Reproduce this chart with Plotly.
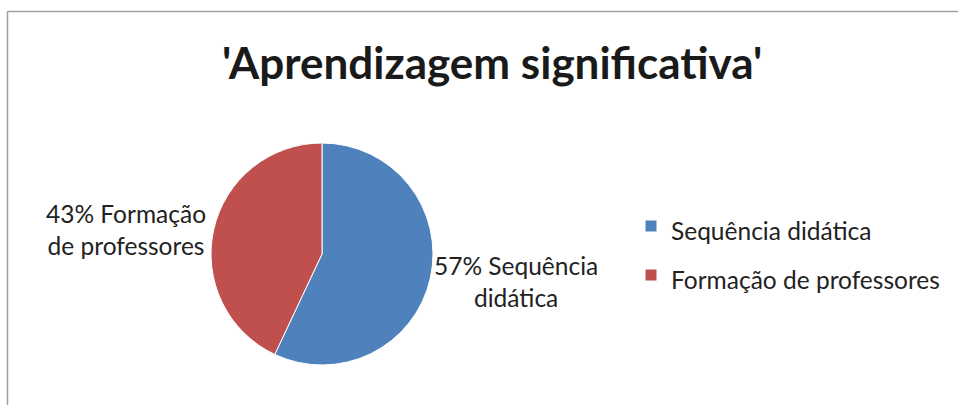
import plotly.graph_objects as go

categories = ["Sequência didática", "Formação de professores"]
values = [57, 43]
colors = ["#4F81BD", "#C0504D"]
title_text = "'Aprendizagem significativa'"

W, H = 958, 405
FONT = "Lato, Open Sans, sans-serif"

cx, cy, r = 322, 254, 111
LEG_TXT = 24.5

fig = go.Figure()
fig.add_trace(go.Pie(
    labels=[f"<span style='font-size:{LEG_TXT}px'>{c}</span>" for c in categories],
    values=values,
    sort=False,
    direction="clockwise",
    rotation=0,
    marker=dict(colors=colors, line=dict(color="white", width=1)),
    textinfo="none",
    hoverinfo="percent",
    domain=dict(x=[(cx - r) / W, (cx + r) / W], y=[1 - (cy + r) / H, 1 - (cy - r) / H]),
    showlegend=True,
))

total = sum(values)
pcts = [round(v / total * 100) for v in values]
texts = [f"{pcts[0]}% Sequência<br>didática", f"{pcts[1]}% Formação<br>de professores"]
positions = [(516, 281), (126, 229)]
annotations = []
for t, (x, y) in zip(texts, positions):
    annotations.append(dict(
        x=x / W, y=1 - y / H, xref="paper", yref="paper", text=t, showarrow=False,
        font=dict(family=FONT, size=24.5, color="#222222"), align="center",
        xanchor="center", yanchor="middle",
    ))
annotations.append(dict(
    x=492 / W, y=1 - 62 / H, xref="paper", yref="paper", text=f"<b>{title_text}</b>",
    showarrow=False, font=dict(family=FONT, size=44, color="#1a1a1a"),
    xanchor="center", yanchor="middle",
))

fig.update_layout(
    width=W, height=H,
    margin=dict(l=0, r=0, t=0, b=0),
    paper_bgcolor="white",
    plot_bgcolor="white",
    annotations=annotations,
    legend=dict(
        x=631 / W, y=1 - 251 / H, xanchor="left", yanchor="middle",
        font=dict(family=FONT, size=35.4, color="#222222"),
        itemwidth=30,
    ),
    shapes=[
        dict(type="line", xref="paper", yref="paper", x0=7.5 / W, x1=7.5 / W, y0=0, y1=1 - 11.5 / H,
             line=dict(color="#A0A0A0", width=1.5)),
        dict(type="line", xref="paper", yref="paper", x0=7.5 / W, x1=1, y0=1 - 11.5 / H, y1=1 - 11.5 / H,
             line=dict(color="#A0A0A0", width=1.5)),
    ],
)

fig.write_html("out.html", config={"displayModeBar": False},
               post_script="document.body.style.margin='0';document.body.style.overflow='hidden';")
